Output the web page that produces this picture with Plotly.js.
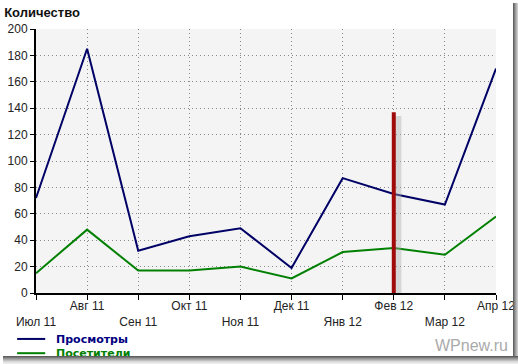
<!DOCTYPE html>
<html>
<head>
<meta charset="utf-8">
<script src="https://cdn.plot.ly/plotly-3.0.1.min.js"></script>
<style>
html,body{margin:0;padding:0;background:#fff;width:518px;height:364px;overflow:hidden;}
#chart{position:absolute;left:0;top:0;width:518px;height:364px;}
#shR{position:absolute;left:513px;top:3px;width:5px;height:358px;background:linear-gradient(to right,#505050,#909090 40%,#d8d8d8);}
#shB{position:absolute;left:3px;top:356px;width:515px;height:8px;background:linear-gradient(to bottom,#505050,#909090 30%,#d8d8d8 70%,#f4f4f4);}
</style>
</head>
<body>
<div id="chart"></div>
<div id="shR"></div>
<div id="shB"></div>
<script>
var months = ["Июл 11","Авг 11","Сен 11","Окт 11","Ноя 11","Дек 11","Янв 12","Фев 12","Мар 12","Апр 12"];
var views = [72, 185, 32, 43, 49, 19, 87, 75, 67, 170];
var visitors = [15, 48, 17, 17, 20, 11, 31, 34, 29, 58];
var seriesNames = ["Просмотры", "Посетители"];
var markerMonth = 7;
var markerTop = 137;

var idx = months.map(function(_, i){ return i; });
var tickText = months.map(function(m, i){ return i % 2 === 0 ? "\u00a0<br>" + m : m; });

var traces = [
  {x: idx, y: views, type: "scatter", mode: "lines", name: seriesNames[0],
   line: {color: "#000066", width: 2}, showlegend: false, hoverinfo: "none"},
  {x: idx, y: visitors, type: "scatter", mode: "lines", name: seriesNames[1],
   line: {color: "#008000", width: 2}, showlegend: false, hoverinfo: "none"}
];

var layout = {
  width: 518, height: 364,
  margin: {l: 36, r: 22, t: 29, b: 71},
  paper_bgcolor: "#ffffff",
  plot_bgcolor: "#f4f4f4",
  font: {family: "Liberation Sans, Arial, sans-serif", size: 12, color: "#222"},
  title: {text: "<b>Количество</b>", x: 0.008, xref: "container", xanchor: "left",
          y: 0.967, yref: "container", yanchor: "middle",
          font: {size: 13, color: "#111", family: "Liberation Sans, Arial, sans-serif"}},
  xaxis: {
    range: [0, 9], tickmode: "array", tickvals: idx, ticktext: tickText,
    showline: true, linecolor: "#000", linewidth: 2,
    ticks: "outside", ticklen: 5, tickcolor: "#000", tickwidth: 1,
    ticklabelstandoff: -4,
    showgrid: true, gridcolor: "#888", griddash: "1px,3px", gridwidth: 1,
    zeroline: false, fixedrange: true,
    tickfont: {size: 12, color: "#222"}
  },
  yaxis: {
    range: [0, 200], dtick: 20, tick0: 0,
    showline: true, linecolor: "#000", linewidth: 2,
    ticks: "outside", ticklen: 4, tickcolor: "#000", tickwidth: 1,
    showgrid: true, gridcolor: "#888", griddash: "1px,3px", gridwidth: 1,
    zeroline: false, fixedrange: true,
    tickfont: {size: 12, color: "#222"}
  },
  shapes: [
    {type: "line", xref: "x", yref: "y", x0: markerMonth + 0.09, x1: markerMonth + 0.09,
     y0: -3, y1: markerTop - 3, line: {color: "rgba(170,170,170,0.4)", width: 6}},
    {type: "line", xref: "x", yref: "y", x0: markerMonth, x1: markerMonth,
     y0: -5, y1: markerTop, line: {color: "#a00a0a", width: 4}},
    {type: "line", xref: "paper", yref: "paper", x0: -0.041, x1: 0.02,
     y0: -0.174, y1: -0.174, line: {color: "#000066", width: 2}},
    {type: "line", xref: "paper", yref: "paper", x0: -0.041, x1: 0.02,
     y0: -0.228, y1: -0.228, line: {color: "#008000", width: 2}}
  ],
  annotations: [
    {text: "<b><span style='color:#000080'>" + seriesNames[0] + "</span><br><span style='color:#008000'>" + seriesNames[1] + "</span></b>",
     xref: "paper", yref: "paper", x: 0.04, y: -0.201, align: "left",
     xanchor: "left", yanchor: "middle", showarrow: false,
     font: {size: 11, color: "#000080", family: "DejaVu Sans, sans-serif"}},
    {text: "WPnew.ru", xref: "paper", yref: "paper", x: 1.03, y: -0.197,
     xanchor: "right", yanchor: "middle", showarrow: false,
     font: {size: 16, color: "#aaaaaa"}}
  ]
};

Plotly.newPlot("chart", traces, layout, {displayModeBar: false, staticPlot: true});
</script>
</body>
</html>
